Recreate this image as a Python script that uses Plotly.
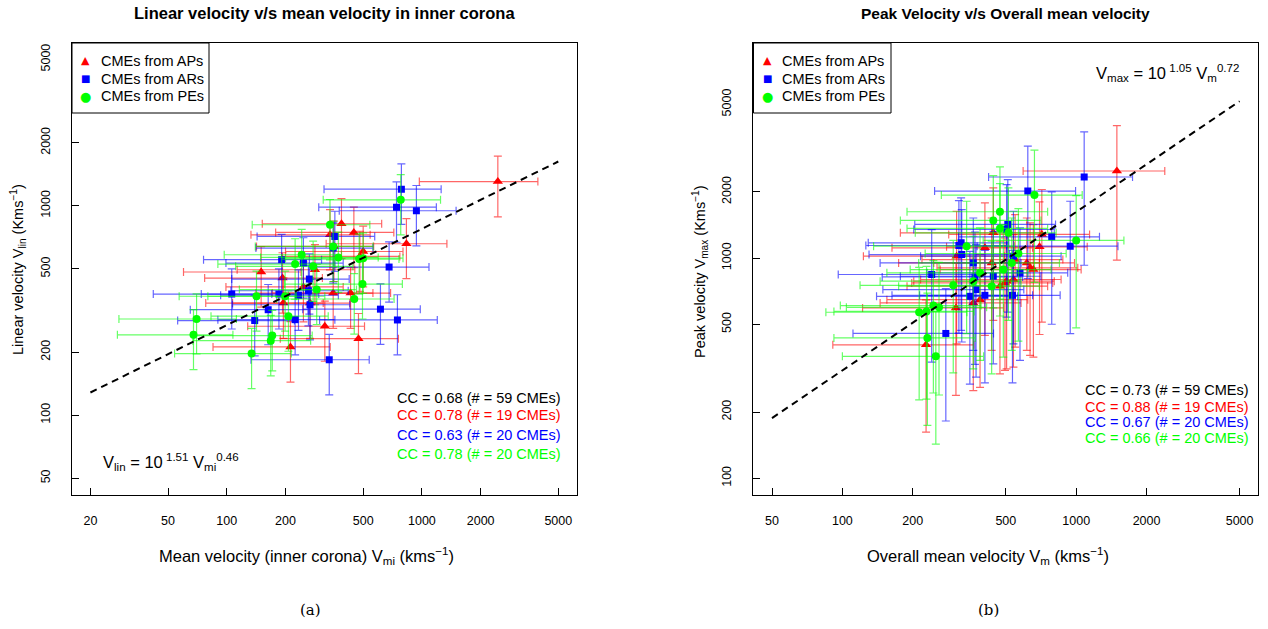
import plotly.graph_objects as go
import numpy as np

W, H = 1268, 629

# ---------------- Panel (a): Linear velocity vs mean velocity (inner corona) ----------------
a_ap_x = [2450, 833, 387, 448, 500, 338, 283, 150, 193, 195, 318, 473, 212, 431, 267, 351, 354, 481, 247]
a_ap_xerr = [1480, 510, 235, 270, 300, 205, 170, 90, 116, 117, 190, 285, 127, 260, 160, 210, 212, 290, 148]
a_ap_y = [1306, 659, 821, 746, 605, 727, 495, 483, 452, 343, 266, 232, 212, 383, 343, 383, 640, 573, 410]
a_ap_yerr = [420, 210, 262, 240, 195, 233, 158, 155, 145, 110, 85, 74, 68, 123, 110, 123, 205, 183, 131]

a_ar_x = [785, 741, 937, 679, 613, 749, 335, 139, 106, 163, 185, 233, 224, 262, 265, 267, 191, 351, 358, 247]
a_ar_xerr = [470, 445, 560, 408, 368, 450, 202, 83, 64, 98, 111, 140, 134, 157, 159, 160, 115, 210, 215, 148]
a_ar_y = [1201, 985, 947, 510, 321, 285, 184, 283, 379, 319, 379, 374, 286, 393, 447, 337, 553, 628, 714, 533]
a_ar_yerr = [385, 315, 303, 163, 103, 91, 59, 91, 121, 102, 121, 120, 92, 126, 143, 108, 177, 201, 228, 171]

a_pe_x = [779, 70, 67.5, 134, 171, 168, 207, 450, 496, 224, 242, 373, 477, 351, 199, 277, 500, 338, 142, 289]
a_pe_xerr = [467, 42, 40, 80, 103, 101, 124, 270, 298, 134, 145, 224, 286, 211, 119, 166, 300, 203, 85, 173]
a_pe_y = [1068, 288, 242, 197, 240, 227, 297, 359, 423, 527, 584, 567, 557, 640, 370, 514, 562, 812, 370, 398]
a_pe_yerr = [342, 92, 77, 63, 77, 73, 95, 115, 135, 169, 187, 181, 178, 205, 118, 164, 180, 260, 118, 127]

a_fit_logk, a_fit_exp = 1.51, 0.46
a_fit_xlim = [20, 5000]
a_xticks = [20, 50, 100, 200, 500, 1000, 2000, 5000]
a_yticks = [50, 100, 200, 500, 1000, 2000, 5000]
a_xlim = [20, 5000]
a_ylim = [50, 5000]
a_cc = ["CC = 0.68 (# = 59 CMEs)", "CC = 0.78 (# = 19 CMEs)",
        "CC = 0.63 (# = 20 CMEs)", "CC = 0.78 (# = 20 CMEs)"]

# ---------------- Panel (b): Peak velocity vs overall mean velocity ----------------
b_ap_x = [1493, 697, 713, 442, 407, 635, 504, 539, 388, 306, 228, 308, 472, 615, 363, 548, 435, 656, 496]
b_ap_xerr = [900, 418, 428, 265, 244, 381, 302, 323, 233, 184, 137, 185, 283, 369, 218, 329, 261, 394, 298]
b_ap_y = [2490, 1126, 1282, 1304, 1114, 904, 786, 800, 648, 594, 404, 1021, 746, 952, 626, 986, 952, 888, 772]
b_ap_yerr = [1510, 676, 770, 782, 668, 542, 472, 480, 389, 356, 242, 613, 448, 571, 376, 592, 571, 533, 463]

b_ar_x = [1082, 621, 943, 786, 277, 241, 322, 315, 324, 369, 510, 351, 407, 534, 575, 373, 504, 442, 539, 363]
b_ar_xerr = [660, 373, 566, 472, 166, 145, 193, 189, 194, 221, 306, 211, 244, 320, 345, 224, 302, 265, 323, 218]
b_ar_y = [2339, 2018, 1134, 1251, 455, 843, 1174, 1142, 1039, 822, 1423, 671, 678, 678, 858, 720, 1350, 828, 1021, 952]
b_ar_yerr = [1410, 1210, 680, 750, 273, 506, 704, 685, 623, 493, 854, 403, 407, 407, 515, 432, 810, 497, 613, 571]

b_pe_x = [663, 1000, 472, 442, 472, 513, 566, 298, 435, 213, 229, 245, 259, 231, 251, 530, 388, 363, 340, 488]
b_pe_xerr = [398, 600, 283, 265, 283, 308, 340, 179, 261, 128, 137, 147, 155, 139, 151, 318, 233, 218, 204, 293]
b_pe_y = [1936, 1204, 1626, 1484, 1365, 1304, 1050, 753, 746, 568, 573, 609, 598, 434, 358, 952, 858, 786, 1134, 888]
b_pe_yerr = [1160, 722, 975, 890, 819, 782, 630, 452, 448, 341, 344, 365, 359, 260, 215, 571, 515, 472, 680, 533]

b_fit_logk, b_fit_exp = 1.05, 0.72
b_fit_xlim = [50, 5000]
b_xticks = [50, 100, 200, 500, 1000, 2000, 5000]
b_yticks = [100, 200, 500, 1000, 2000, 5000]
b_xlim = [50, 5000]
b_ylim = [100, 8000]
b_cc = ["CC = 0.73 (# = 59 CMEs)", "CC = 0.88 (# = 19 CMEs)",
        "CC = 0.67 (# = 20 CMEs)", "CC = 0.66 (# = 20 CMEs)"]

group_names = ["CMEs from APs", "CMEs from ARs", "CMEs from PEs"]
group_colors = ["#FF0000", "#0000FF", "#00FF00"]
group_err_colors = ["rgba(255,0,0,0.6)", "rgba(0,0,255,0.6)", "rgba(0,255,0,0.6)"]
group_symbols = ["triangle-up", "square", "circle"]
group_glyphs = ["▲", "■", "●"]
group_sizes = [9, 7, 8]
cc_colors = ["#000000", "#FF0000", "#0000FF", "#00FF00"]

FONT = "Liberation Sans, Arial, Helvetica, sans-serif"


def px(x):
    return x / W


def py(y):
    return 1 - y / H


def log_range(lim):
    lo, hi = np.log10(lim[0]), np.log10(lim[1])
    pad = 0.04 * (hi - lo)
    return [lo - pad, hi + pad]


fig = go.Figure()

panels = [
    dict(xa="x", ya="y",
         groups=[(a_ap_x, a_ap_xerr, a_ap_y, a_ap_yerr),
                 (a_ar_x, a_ar_xerr, a_ar_y, a_ar_yerr),
                 (a_pe_x, a_pe_xerr, a_pe_y, a_pe_yerr)],
         fit=(a_fit_logk, a_fit_exp, a_fit_xlim)),
    dict(xa="x2", ya="y2",
         groups=[(b_ap_x, b_ap_xerr, b_ap_y, b_ap_yerr),
                 (b_ar_x, b_ar_xerr, b_ar_y, b_ar_yerr),
                 (b_pe_x, b_pe_xerr, b_pe_y, b_pe_yerr)],
         fit=(b_fit_logk, b_fit_exp, b_fit_xlim)),
]

for p in panels:
    for gi, (gx, gxe, gy, gye) in enumerate(p["groups"]):
        fig.add_trace(go.Scatter(
            x=gx, y=gy, mode="markers", xaxis=p["xa"], yaxis=p["ya"],
            name=group_names[gi], showlegend=False, hoverinfo="skip",
            marker=dict(symbol=group_symbols[gi], size=group_sizes[gi],
                        color=group_colors[gi], line=dict(width=0)),
            error_x=dict(type="data", array=gxe, symmetric=True,
                         color=group_err_colors[gi], thickness=1.2, width=4),
            error_y=dict(type="data", array=gye, symmetric=True,
                         color=group_err_colors[gi], thickness=1.2, width=4),
        ))
    k, e, xl = p["fit"]
    fx = np.array(xl, dtype=float)
    fy = 10 ** k * fx ** e
    fig.add_trace(go.Scatter(
        x=fx, y=fy, mode="lines", xaxis=p["xa"], yaxis=p["ya"],
        showlegend=False, hoverinfo="skip",
        line=dict(color="black", width=2, dash="7px,5px"),
    ))

axis_common = dict(
    type="log", showgrid=False, zeroline=False, showline=True, mirror=True,
    linecolor="black", linewidth=1, ticks="inside", ticklen=7, tickcolor="black",
    tickfont=dict(family=FONT, size=12.5, color="black"),
)

ydom = [py(495), py(42.7)]
fig.update_layout(
    width=W, height=H, margin=dict(l=0, r=0, t=0, b=0),
    paper_bgcolor="white", plot_bgcolor="white", showlegend=False,
    xaxis=dict(domain=[px(71.7), px(577)], range=log_range(a_xlim),
               tickvals=a_xticks, ticktext=[str(v) for v in a_xticks],
               anchor="y", ticklabelstandoff=14, **axis_common),
    yaxis=dict(domain=ydom, range=log_range(a_ylim),
               tickvals=a_yticks, ticktext=[str(v) for v in a_yticks],
               tickangle=-90, anchor="x", ticklabelstandoff=16, **axis_common),
    xaxis2=dict(domain=[px(753.3), px(1258.3)], range=log_range(b_xlim),
                tickvals=b_xticks, ticktext=[str(v) for v in b_xticks],
                anchor="y2", ticklabelstandoff=14, **axis_common),
    yaxis2=dict(domain=ydom, range=log_range(b_ylim),
                tickvals=b_yticks, ticktext=[str(v) for v in b_yticks],
                tickangle=-90, anchor="x2", ticklabelstandoff=16, **axis_common),
)

ann = []
shapes = []


def add_text(text, x, y, size=14.5, color="black", xanchor="center", yanchor="middle",
             angle=0, family=FONT):
    ann.append(dict(text=text, x=px(x), y=py(y), xref="paper", yref="paper",
                    showarrow=False, xanchor=xanchor, yanchor=yanchor, textangle=angle,
                    font=dict(family=family, size=size, color=color)))


# legends (box + symbol glyphs + labels)
for (bx0, bx1, sx, tx) in [(72, 209, 85, 99), (753.5, 891, 767, 780)]:
    shapes.append(dict(type="rect", xref="paper", yref="paper",
                       x0=px(bx0), x1=px(bx1), y0=py(113), y1=py(43),
                       line=dict(color="black", width=1), fillcolor="white", layer="above"))
    for gi, yy in enumerate([61, 79, 96]):
        gsize = [11, 10, 13][gi]
        add_text(group_glyphs[gi], sx, yy, size=gsize, color=group_colors[gi],
                 family="DejaVu Sans, sans-serif")
        add_text(group_names[gi], tx, yy, size=14.5, xanchor="left")

# titles
add_text("<b>Linear velocity v/s mean velocity in inner corona</b>", 324.5, 13, size=16.5)
add_text("<b>Peak Velocity v/s Overall mean velocity</b>", 1005.5, 13, size=15.5)
# axis titles
add_text("Mean velocity (inner corona) V<sub>mi</sub> (kms<sup>−1</sup>)", 306, 556, size=16.5)
add_text("Overall mean velocity V<sub>m</sub> (kms<sup>−1</sup>)", 988, 556, size=16.5)
add_text("Linear velocity V<sub>lin</sub> (Kms<sup>−1</sup>)", 18, 270, angle=-90, size=14.5)
add_text("Peak velocity V<sub>max</sub> (Kms<sup>−1</sup>)", 700, 272, angle=-90, size=14.5)
# panel labels
add_text("(a)", 310, 610, size=15, family="DejaVu Serif, Liberation Serif, serif")
add_text("(b)", 988, 610, size=15, family="DejaVu Serif, Liberation Serif, serif")
# CC texts
for i, (t, yy) in enumerate(zip(a_cc, [398, 415, 435, 454])):
    add_text(t, 563, yy, color=cc_colors[i], xanchor="right")
for i, (t, yy) in enumerate(zip(b_cc, [390, 406.5, 421.5, 438])):
    add_text(t, 1251, yy, color=cc_colors[i], xanchor="right")
# fit equations
add_text("V<sub>lin</sub> = 10<sup> %.2f</sup> V<sub>mi</sub><sup>%.2f</sup>" % (a_fit_logk, a_fit_exp),
         101, 462, xanchor="left", size=16.5)
add_text("V<sub>max</sub> = 10<sup> %.2f</sup> V<sub>m</sub><sup>%.2f</sup>" % (b_fit_logk, b_fit_exp),
         1241, 73, xanchor="right", size=16.5)

fig.update_layout(annotations=ann, shapes=shapes)

fig.write_html("out.html", config={"displayModeBar": False, "staticPlot": True},
               post_script="document.body.style.margin='0px';document.body.style.overflow='hidden';")
